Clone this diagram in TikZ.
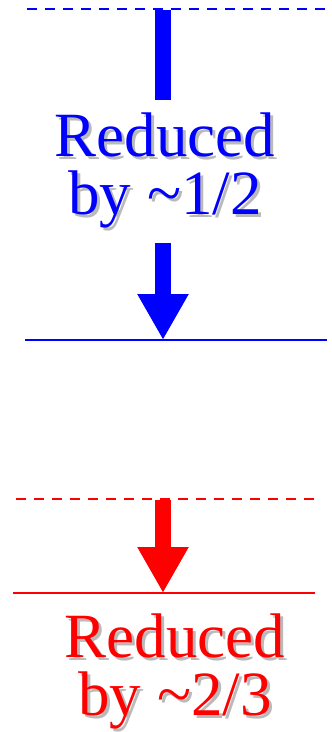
\documentclass[tikz,border=0pt]{standalone}
\usepackage{fontspec}
\setmainfont{Liberation Serif}
\usetikzlibrary{arrows.meta}
\tikzset{
  bigarrow/.style={line width=16pt,-{Triangle[width=48pt,length=46pt]}},
  bartext/.style={font=\fontsize{63}{58}\selectfont,align=center,inner sep=0pt},
  shade text/.style={bartext,text=black!45,opacity=0.6},
}

\begin{document}
\begin{tikzpicture}[x=1pt,y=-1pt]
\useasboundingbox (0,0) rectangle (332,732);
% blue level, dashed before / solid after
\coordinate (bd1) at (27,9);
\coordinate (bd2) at (332,9);
\coordinate (bs1) at (25,340);
\coordinate (bs2) at (327,340);
\coordinate (bbar1) at (163,10);
\coordinate (bbar2) at (163,100);
\coordinate (barr1) at (163,243);
\coordinate (barr2) at (163,340);
\draw[blue,line width=2pt,dash pattern=on 10pt off 8pt] (bd1) -- (bd2);
\draw[blue,line width=2pt] (bs1) -- (bs2);
\draw[blue,line width=16pt] (bbar1) -- (bbar2);
\draw[blue,bigarrow] (barr1) -- (barr2);
\node[shade text] (txtAs) at (168,173) {Reduced\\by \textasciitilde1/2};
\node[bartext,text=blue] (txtA) at (165,170) {Reduced\\by \textasciitilde1/2};

% red level
\coordinate (rd1) at (16,499);
\coordinate (rd2) at (318,499);
\coordinate (rs1) at (13,593);
\coordinate (rs2) at (315,593);
\coordinate (rarr1) at (163,500);
\coordinate (rarr2) at (163,593);
\draw[red,line width=2pt,dash pattern=on 10pt off 8pt] (rd1) -- (rd2);
\draw[red,line width=2pt] (rs1) -- (rs2);
\draw[red,bigarrow] (rarr1) -- (rarr2);
\node[shade text] (txtBs) at (178,674) {Reduced\\by \textasciitilde2/3};
\node[bartext,text=red] (txtB) at (175,671) {Reduced\\by \textasciitilde2/3};
\end{tikzpicture}
\end{document}
